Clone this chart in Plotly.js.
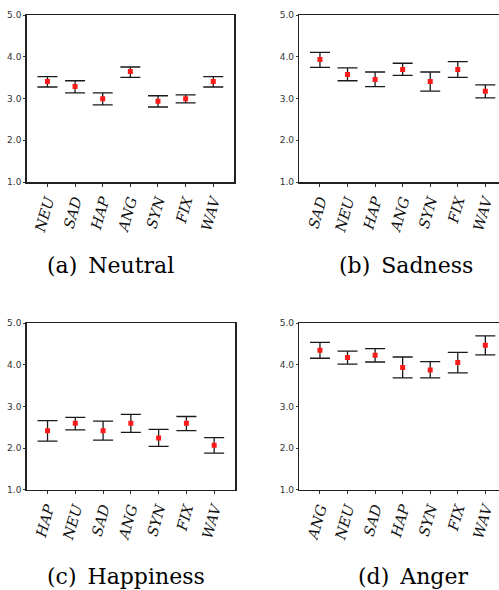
<!DOCTYPE html>
<html>
<head>
<meta charset="utf-8">
<script src="https://cdn.plot.ly/plotly-3.0.1.min.js"></script>
<style>
html,body{margin:0;padding:0;overflow:hidden;background:#fff;}
#chart{position:absolute;left:0;top:0;}
</style>
</head>
<body>
<div id="chart"></div>
<script>
// (a) Neutral
const catsA = ['NEU','SAD','HAP','ANG','SYN','FIX','WAV'];
const meanA = [3.41, 3.29, 3.00, 3.65, 2.94, 3.00, 3.41];
const upA   = [3.53, 3.43, 3.14, 3.76, 3.07, 3.09, 3.53];
const loA   = [3.28, 3.14, 2.85, 3.51, 2.80, 2.90, 3.28];
// (b) Sadness
const catsB = ['SAD','NEU','HAP','ANG','SYN','FIX','WAV'];
const meanB = [3.94, 3.58, 3.46, 3.70, 3.41, 3.70, 3.18];
const upB   = [4.11, 3.74, 3.64, 3.85, 3.64, 3.89, 3.33];
const loB   = [3.75, 3.43, 3.29, 3.56, 3.18, 3.51, 3.02];
// (c) Happiness
const catsC = ['HAP','NEU','SAD','ANG','SYN','FIX','WAV'];
const meanC = [2.42, 2.60, 2.42, 2.60, 2.24, 2.60, 2.07];
const upC   = [2.66, 2.74, 2.65, 2.81, 2.45, 2.76, 2.25];
const loC   = [2.17, 2.44, 2.19, 2.38, 2.04, 2.42, 1.88];
// (d) Anger
const catsD = ['ANG','NEU','SAD','HAP','SYN','FIX','WAV'];
const meanD = [4.35, 4.18, 4.23, 3.94, 3.88, 4.06, 4.47];
const upD   = [4.54, 4.33, 4.39, 4.19, 4.08, 4.30, 4.70];
const loD   = [4.16, 4.02, 4.07, 3.69, 3.69, 3.81, 4.24];
const captions = ['(a)\u2002Neutral','(b)\u2002Sadness','(c)\u2002Happiness','(d)\u2002Anger'];

const W = 520, H = 590;
const px = v => v / W;
const py = v => 1 - v / H;

function trace(cats, mean, up, lo, n) {
  return {
    type: 'scatter', mode: 'markers',
    x: cats, y: mean,
    xaxis: 'x' + (n === 1 ? '' : n), yaxis: 'y' + (n === 1 ? '' : n),
    marker: {color: '#ff1a1a', size: 5, symbol: 'square'},
    error_y: {
      type: 'data', symmetric: false,
      array: up.map((u, i) => u - mean[i]),
      arrayminus: lo.map((l, i) => mean[i] - l),
      color: '#1a1a1a', thickness: 1.3, width: 10
    },
    showlegend: false, hoverinfo: 'skip'
  };
}

const data = [
  trace(catsA, meanA, upA, loA, 1),
  trace(catsB, meanB, upB, loB, 2),
  trace(catsC, meanC, upC, loC, 3),
  trace(catsD, meanD, upD, loD, 4)
];

const serif = 'DejaVu Serif';

function xax(dom, anchor) {
  return {
    domain: dom, anchor: anchor, type: 'category', range: [-0.75, 6.75],
    showline: true, mirror: true, linecolor: '#222', linewidth: 1.5,
    ticks: 'outside', ticklen: 3, tickcolor: '#333', tickwidth: 1,
    tickangle: -74, showgrid: false, zeroline: false,
    tickfont: {family: serif, size: 14.5, color: '#111', style: 'italic'}
  };
}
function yax(dom, anchor) {
  return {
    domain: dom, anchor: anchor, range: [1, 5], dtick: 1, tick0: 1, tickformat: '.1f',
    showline: true, mirror: true, linecolor: '#222', linewidth: 1.5,
    ticks: 'outside', ticklen: 2, tickcolor: '#333', tickwidth: 1,
    showgrid: false, zeroline: false,
    tickfont: {family: 'DejaVu Sans', size: 9, color: '#333'}
  };
}

const topDom = [py(182), py(15.3)];
const botDom = [py(489.7), py(323.3)];

const capPos = [[45, 265], [337, 265], [45, 576], [356, 576]];

const layout = {
  width: W, height: H,
  margin: {l: 0, r: 0, t: 0, b: 0},
  paper_bgcolor: '#fff', plot_bgcolor: '#fff',
  xaxis: xax([px(26.7), px(234)], 'y'),
  yaxis: yax(topDom, 'x'),
  xaxis2: xax([px(299.3), px(506)], 'y2'),
  yaxis2: yax(topDom, 'x2'),
  xaxis3: xax([px(26.7), px(235)], 'y3'),
  yaxis3: yax(botDom, 'x3'),
  xaxis4: xax([px(299.3), px(506)], 'y4'),
  yaxis4: yax(botDom, 'x4'),
  annotations: captions.map((t, i) => ({
    text: t, xref: 'paper', yref: 'paper',
    x: px(capPos[i][0]), y: py(capPos[i][1]),
    xanchor: 'left', yanchor: 'middle', showarrow: false,
    font: {family: serif, size: 22, color: '#000'}
  }))
};

Plotly.newPlot('chart', data, layout, {staticPlot: true, displayModeBar: false});
</script>
</body>
</html>
